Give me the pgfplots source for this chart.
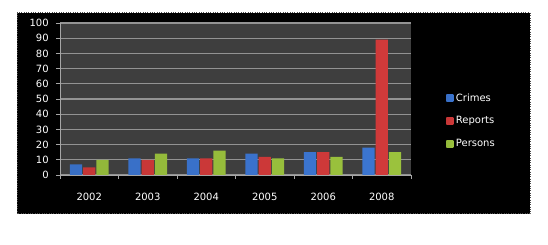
\documentclass[border=0pt]{standalone}
\usepackage{pgfplots}
\pgfplotsset{compat=1.18}
\usepackage{fontspec}
\setmainfont{DejaVu Sans}
\definecolor{cblue}{HTML}{4282E8}
\definecolor{cred}{HTML}{E84040}
\definecolor{cgreen}{HTML}{ACD844}
\definecolor{plotbg}{HTML}{3E3E3E}
\pgfplotsset{
  mylegend/.style={legend image code/.code={\fill[##1] (0pt,-2.6pt) rectangle (5.2pt,2.6pt);}},
}
\begin{document}
\begin{tikzpicture}
\useasboundingbox (0pt,0pt) rectangle (411pt,183.75pt);
\fill[white] (0pt,0pt) rectangle (411pt,183.75pt);
\fill[black] (12.75pt,23.25pt) rectangle (397.5pt,174pt);
\draw[black!70, densely dotted, line width=0.75pt] (12.75pt,23.25pt) rectangle (397.5pt,174pt);
\begin{axis}[
  at={(45pt,52.5pt)}, anchor=south west,
  scale only axis, width=263.25pt, height=114pt,
  xmin=0.5, xmax=6.5, ymin=0, ymax=100,
  ybar=0.75pt, bar width=0.21,
  xtick={1,...,6},
  xticklabels={2002,2003,2004,2005,2006,2008},
  minor xtick={0.5,1.5,...,6.5},
  ytick={0,10,...,100},
  /pgf/number format/assume math mode=true,
  axis x line*=bottom, axis y line*=left,
  axis line style={gray!70, line width=0.6pt},
  axis background/.style={fill=plotbg},
  ymajorgrids, grid style={gray!85, line width=0.8pt},
  tick align=outside,
  major tick length=3pt, minor tick length=3pt,
  tick style={gray!70, line width=0.6pt},
  major x tick style={draw=none},
  ticklabel style={text=white, font=\fontsize{7.5}{8}\selectfont},
  xticklabel style={yshift=-7pt},
  yticklabel style={xshift=-2pt},
  legend style={at={(1.10,0.355)}, anchor=west, fill=black, draw=none,
    text=white, font=\fontsize{7.5}{8}\selectfont, row sep=6pt,
    inner sep=0pt},
  legend cell align=left,
]
\addplot[mylegend, draw=none, left color=cblue!85!black, middle color=cblue!75!white, right color=cblue!90!black]
  coordinates {(1,7) (2,11) (3,11) (4,14) (5,15) (6,18)};
\addplot[mylegend, draw=none, left color=cred!85!black, middle color=cred!75!white, right color=cred!90!black]
  coordinates {(1,5) (2,10) (3,11) (4,12) (5,15) (6,89)};
\addplot[mylegend, draw=none, left color=cgreen!85!black, middle color=cgreen!75!white, right color=cgreen!90!black]
  coordinates {(1,10) (2,14) (3,16) (4,11) (5,12) (6,15)};
\legend{Crimes,Reports,Persons}
\end{axis}
\end{tikzpicture}
\end{document}
